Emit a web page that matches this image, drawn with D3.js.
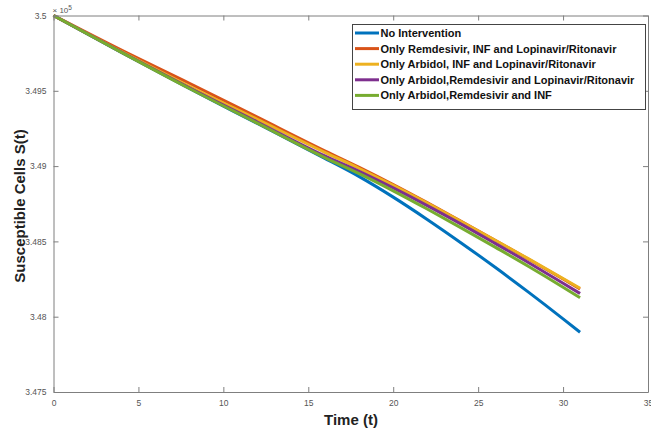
<!DOCTYPE html>
<html>
<head>
<meta charset="utf-8">
<script src="https://cdn.jsdelivr.net/npm/d3@7"></script>
<style>
  html, body { margin: 0; padding: 0; background: #fff; }
  svg { display: block; }
</style>
</head>
<body>
<svg id="chart" width="651" height="436"></svg>
<script>
// Time points (t)
const times = [0, 4, 8, 12, 16, 18, 20, 22, 24, 26, 28, 30, 31];
// Susceptible cells S(t), in units of 10^5
const noIntervention   = [3.5, 3.49755, 3.49515, 3.49283, 3.49050, 3.48930, 3.48794, 3.48646, 3.48490, 3.48328, 3.48160, 3.47986, 3.47897];
const remdInfLop       = [3.5, 3.49770, 3.49550, 3.49325, 3.49100, 3.48992, 3.48878, 3.48758, 3.48634, 3.48508, 3.48380, 3.48250, 3.48184];
const arbInfLop        = [3.5, 3.49760, 3.49530, 3.49310, 3.49090, 3.48984, 3.48872, 3.48754, 3.48632, 3.48508, 3.48382, 3.48254, 3.48189];
const arbRemdLop       = [3.5, 3.49757, 3.49520, 3.49293, 3.49066, 3.48965, 3.48855, 3.48738, 3.48615, 3.48487, 3.48357, 3.48222, 3.48154];
const arbRemdInf       = [3.5, 3.49755, 3.49515, 3.49285, 3.49055, 3.48950, 3.48836, 3.48715, 3.48590, 3.48462, 3.48332, 3.48196, 3.48126];

const seriesNames = [
  "No Intervention",
  "Only Remdesivir, INF and Lopinavir/Ritonavir",
  "Only Arbidol, INF and Lopinavir/Ritonavir",
  "Only Arbidol,Remdesivir and Lopinavir/Ritonavir",
  "Only Arbidol,Remdesivir and INF"
];
const seriesValues = [noIntervention, remdInfLop, arbInfLop, arbRemdLop, arbRemdInf];
const seriesColors = ["#0072BD", "#D95319", "#EDB120", "#7E2F8E", "#77AC30"];

const xTicks = [0, 5, 10, 15, 20, 25, 30, 35];
const yTicks = [3.475, 3.48, 3.485, 3.49, 3.495, 3.5];
const yTickLabels = ["3.475", "3.48", "3.485", "3.49", "3.495", "3.5"];

(function draw() {
  const svg = d3.select("#chart");
  const pL = 53.5, pR = 648, pT = 15.5, pB = 392;
  const x = d3.scaleLinear().domain([0, 35]).range([pL, pR]);
  const y = d3.scaleLinear().domain([3.475, 3.5]).range([pB, pT]);

  const axisColor = "#7f7f7f";
  const labelColor = "#555";
  const font = "Liberation Sans, Arial, Helvetica, sans-serif";

  // Lines
  const line = d3.line().x(d => x(d[0])).y(d => y(d[1])).curve(d3.curveMonotoneX);
  const g = svg.append("g");
  seriesValues.forEach((vals, i) => {
    g.append("path")
      .datum(times.map((t, j) => [t, vals[j]]))
      .attr("fill", "none")
      .attr("stroke", seriesColors[i])
      .attr("stroke-width", 3)
      .attr("stroke-linejoin", "round")
      .attr("d", line);
  });

  // Axes (box with inward ticks)
  const tickLen = 5;
  const bottomAxis = d3.axisBottom(x).tickValues(xTicks).tickSizeInner(-tickLen).tickSizeOuter(0).tickPadding(8);
  const topAxis = d3.axisTop(x).tickValues(xTicks).tickSizeInner(-tickLen).tickSizeOuter(0).tickFormat("");
  const leftAxis = d3.axisLeft(y).tickValues(yTicks).tickSizeInner(-tickLen).tickSizeOuter(0).tickPadding(7)
    .tickFormat((d, i) => yTickLabels[i]);
  const rightAxis = d3.axisRight(y).tickValues(yTicks).tickSizeInner(-tickLen).tickSizeOuter(0).tickFormat("");

  function styleAxis(sel) {
    sel.selectAll("path").attr("stroke", axisColor).attr("stroke-width", 1);
    sel.selectAll("line").attr("stroke", axisColor).attr("stroke-width", 1);
    sel.selectAll("text").attr("fill", labelColor).style("font-family", font).style("font-size", "8.5px");
  }
  svg.append("g").attr("transform", `translate(0,${pB})`).call(bottomAxis).call(styleAxis);
  svg.append("g").attr("transform", `translate(0,${pT})`).call(topAxis).call(styleAxis);
  svg.append("g").attr("transform", `translate(${pL},0)`).call(leftAxis).call(styleAxis);
  svg.append("g").attr("transform", `translate(${pR},0)`).call(rightAxis).call(styleAxis);

  // Exponent label
  const expo = svg.append("text").attr("x", pL - 1).attr("y", 13)
    .attr("fill", labelColor).style("font-family", font).style("font-size", "8px");
  expo.append("tspan").text("\u00d7 10");
  expo.append("tspan").attr("dy", -3).style("font-size", "6.5px").text("5");

  // Axis titles
  svg.append("text").attr("x", 351).attr("y", 425).attr("text-anchor", "middle")
    .style("font-family", font).style("font-weight", "bold").style("font-size", "15px")
    .attr("fill", "#222").text("Time (t)");
  svg.append("text").attr("transform", "translate(25,206) rotate(-90)").attr("text-anchor", "middle")
    .style("font-family", font).style("font-weight", "bold").style("font-size", "15px")
    .attr("fill", "#222").text("Susceptible Cells S(t)");

  // Legend
  const lg = svg.append("g");
  lg.append("rect").attr("x", 352.5).attr("y", 24.5).attr("width", 293).attr("height", 85)
    .attr("fill", "#fff").attr("stroke", "#444").attr("stroke-width", 1);
  seriesNames.forEach((name, i) => {
    const cy = 33 + i * 15.6;
    lg.append("line").attr("x1", 355).attr("x2", 379).attr("y1", cy).attr("y2", cy)
      .attr("stroke", seriesColors[i]).attr("stroke-width", 3);
    lg.append("text").attr("x", 380.5).attr("y", cy + 4)
      .style("font-family", font).style("font-weight", "bold").style("font-size", "11px")
      .attr("fill", "#111").text(name);
  });
})();
</script>
</body>
</html>
